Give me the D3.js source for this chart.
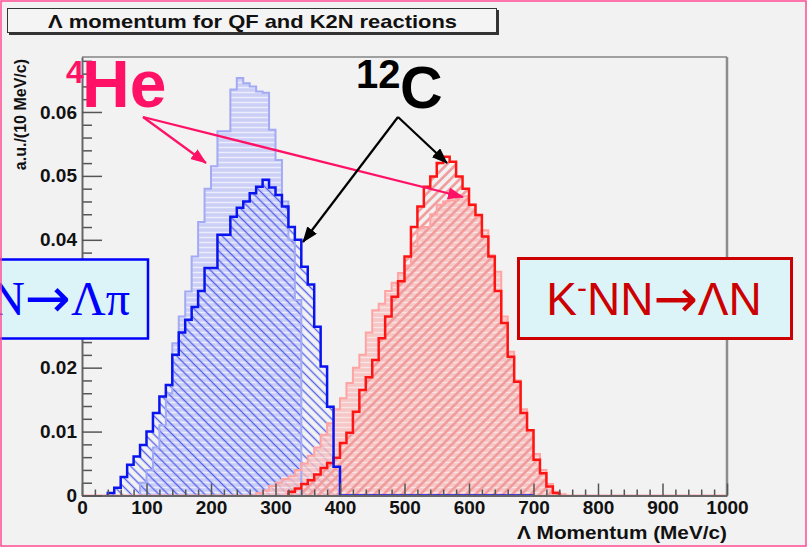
<!DOCTYPE html>
<html>
<head>
<meta charset="utf-8">
<script src="https://cdn.jsdelivr.net/npm/d3@7"></script>
<style>
  html, body { margin: 0; padding: 0; background: #f2f2f2; }
  svg { display: block; font-family: "Liberation Sans", Arial, Helvetica, sans-serif; }
</style>
</head>
<body>
<svg id="chart" width="807" height="547"></svg>
<script>
// ---- data: Λ momentum spectra, 10 MeV/c bins ----
const binWidth = 10;
const xTickValues = [0, 100, 200, 300, 400, 500, 600, 700, 800, 900, 1000];
const yTickValues = [0, 0.01, 0.02, 0.03, 0.04, 0.05, 0.06];

// quasi-free K⁻N→Λπ on 4He (light blue) and 12C (dark blue)
const qfHeliumStart = 90;
const qfHelium = [0.0020, 0.0040, 0.0075, 0.0110, 0.0160, 0.0238, 0.0280, 0.0319, 0.0374, 0.0428,
                  0.0480, 0.0515, 0.0570, 0.0570, 0.0635, 0.0653, 0.0645, 0.0640, 0.0632, 0.0630,
                  0.0572, 0.0525, 0.0460, 0.0400, 0.0306];
const qfCarbonStart = 40;
const qfCarbon = [0.0004, 0.0012, 0.0029, 0.0048, 0.0061, 0.0079, 0.0100, 0.0129, 0.0155, 0.0173,
                  0.0220, 0.0255, 0.0275, 0.0295, 0.0320, 0.0356, 0.0356, 0.0408, 0.0408, 0.0436,
                  0.0450, 0.0460, 0.0473, 0.0483, 0.0494, 0.0482, 0.0470, 0.0452, 0.0420, 0.0400,
                  0.0358, 0.0330, 0.0264, 0.0202, 0.0139, 0.0045];

// two-nucleon absorption K⁻NN→ΛN on 4He (light red) and 12C (red)
const k2nHeliumStart = 270;
const k2nHelium = [0.0004, 0.0008, 0.0015, 0.0020, 0.0026, 0.0030, 0.0040, 0.0050, 0.0062, 0.0075,
                   0.0095, 0.0113, 0.0135, 0.0152, 0.0176, 0.0200, 0.0220, 0.0255, 0.0290, 0.0300,
                   0.0320, 0.0333, 0.0348, 0.0360, 0.0390, 0.0418, 0.0420, 0.0440, 0.0455, 0.0460,
                   0.0462, 0.0470, 0.0468, 0.0455, 0.0436, 0.0415, 0.0376, 0.0350, 0.0280, 0.0225,
                   0.0180, 0.0135, 0.0100, 0.0065, 0.0040, 0.0018, 0.0006, 0.0002];
const k2nCarbonStart = 320;
const k2nCarbon = [0.0006, 0.0011, 0.0018, 0.0024, 0.0033, 0.0043, 0.0051, 0.0059, 0.0082, 0.0098,
                   0.0131, 0.0165, 0.0185, 0.0212, 0.0246, 0.0280, 0.0311, 0.0335, 0.0374, 0.0420,
                   0.0452, 0.0483, 0.0499, 0.0520, 0.0530, 0.0522, 0.0499, 0.0480, 0.0455, 0.0439,
                   0.0405, 0.0374, 0.0320, 0.0270, 0.0217, 0.0178, 0.0129, 0.0102, 0.0056, 0.0035,
                   0.0014, 0.0004];

const titleText = "Λ momentum for QF and K2N reactions";
const xTitle = "Λ Momentum (MeV/c)";
const yTitle = "a.u./(10 MeV/c)";

// ---- layout ----
const svg = d3.select("#chart");
const W = 807, H = 547;
const plot = { left: 82, right: 727, top: 57, bottom: 495.5 };

const x = d3.scaleLinear().domain([0, 1000]).range([plot.left, plot.right]);
const y = d3.scaleLinear().domain([0, 0.0686]).range([plot.bottom, plot.top]);

svg.append("rect").attr("width", W).attr("height", H).attr("fill", "#f2f2f2");

// ---- fill patterns ----
const defs = svg.append("defs");
function stripePattern(id, angle, color, lineW, gap, bg) {
  const p = defs.append("pattern")
    .attr("id", id).attr("patternUnits", "userSpaceOnUse")
    .attr("width", gap).attr("height", gap)
    .attr("patternTransform", `rotate(${angle})`);
  if (bg) p.append("rect").attr("width", gap).attr("height", gap).attr("fill", bg);
  p.append("line").attr("x1", 0).attr("y1", gap / 2).attr("x2", gap).attr("y2", gap / 2)
    .attr("stroke", color).attr("stroke-width", lineW);
}
stripePattern("heBlue", 0, "#eceefc", 1.4, 5, "#c9cdf6");
stripePattern("cBlue", 45, "#5563ec", 1.4, 6.5, null);
stripePattern("heRed", 0, "#fbe0e0", 1.4, 5, "#f6bcbc");
stripePattern("cRed", -45, "#f29a9a", 2.6, 6.5, null);

// ---- histogram helpers ----
function binPoints(start, values, from, to) {
  const pts = [{ m: from, v: 0 }];
  for (let m = from; m < to; m += binWidth) {
    const i = Math.round((m - start) / binWidth);
    pts.push({ m, v: (i >= 0 && i < values.length) ? values[i] : 0 });
  }
  pts.push({ m: to, v: 0 });
  return pts;
}
const area = d3.area().curve(d3.curveStepAfter)
  .x(d => x(d.m)).y0(y(0)).y1(d => y(d.v));
const line = d3.line().curve(d3.curveStepAfter)
  .x(d => x(d.m)).y(d => y(d.v));

const histo = {
  heBlue: binPoints(qfHeliumStart, qfHelium, qfHeliumStart, qfHeliumStart + qfHelium.length * binWidth),
  cBlue: binPoints(qfCarbonStart, qfCarbon, qfCarbonStart, 700),
  heRed: binPoints(k2nHeliumStart, k2nHelium, 0, 1000),
  cRed: binPoints(k2nCarbonStart, k2nCarbon, k2nCarbonStart, k2nCarbonStart + k2nCarbon.length * binWidth)
};

const g = svg.append("g");
// fills
g.append("path").attr("d", area(histo.heBlue)).attr("fill", "url(#heBlue)").attr("opacity", 0.95);
g.append("path").attr("d", area(histo.cBlue)).attr("fill", "url(#cBlue)");
g.append("path").attr("d", area(histo.heRed)).attr("fill", "url(#heRed)").attr("opacity", 0.8);
g.append("path").attr("d", area(histo.cRed)).attr("fill", "url(#cRed)");
// outlines
g.append("path").attr("d", line(histo.heBlue)).attr("fill", "none")
  .attr("stroke", "#a3aaf4").attr("stroke-width", 2);
g.append("path").attr("d", line(histo.heRed)).attr("fill", "none")
  .attr("stroke", "#ffa3a3").attr("stroke-width", 2);
g.append("path").attr("d", line(histo.cRed)).attr("fill", "none")
  .attr("stroke", "#ff1414").attr("stroke-width", 2.5);
g.append("path").attr("d", line(histo.cBlue)).attr("fill", "none")
  .attr("stroke", "#0a14f0").attr("stroke-width", 2.5);

// ---- frame ----
svg.append("line").attr("x1", plot.left).attr("x2", plot.right).attr("y1", plot.top).attr("y2", plot.top)
  .attr("stroke", "#a0a0a0").attr("stroke-width", 2);
svg.append("line").attr("x1", plot.right).attr("x2", plot.right).attr("y1", plot.top).attr("y2", plot.bottom)
  .attr("stroke", "#8c8c8c").attr("stroke-width", 2.5);

// ---- axes (ticks point inward) ----
const xMinor = d3.range(0, 1001, 20).filter(v => v % 100 !== 0);
const yMinor = d3.range(0, 0.0681, 0.002).filter(v => Math.abs(v * 100 - Math.round(v * 100)) > 1e-6);

const xAxisG = svg.append("g").attr("transform", `translate(0,${plot.bottom})`);
xAxisG.append("g").call(d3.axisBottom(x).tickValues(xMinor).tickSize(-6).tickSizeOuter(0).tickFormat(""))
  .call(a => a.select(".domain").remove());
xAxisG.append("g").call(d3.axisBottom(x).tickValues(xTickValues).tickSize(-12).tickSizeOuter(0)
  .tickPadding(5).tickFormat(d3.format("d")));

const yAxisG = svg.append("g").attr("transform", `translate(${plot.left},0)`);
yAxisG.append("g").call(d3.axisLeft(y).tickValues(yMinor).tickSize(-10).tickSizeOuter(0).tickFormat(""))
  .call(a => a.select(".domain").remove());
yAxisG.append("g").call(d3.axisLeft(y).tickValues(yTickValues).tickSize(-20).tickSizeOuter(0)
  .tickPadding(5).tickFormat(d => d === 0 ? "0" : d3.format(".2f")(d)));

svg.selectAll(".tick line").attr("stroke", "#555").attr("stroke-width", 1.5);
svg.selectAll(".domain").attr("stroke", "#666").attr("stroke-width", 2);
svg.selectAll(".tick text").attr("font-family", "Liberation Sans, Arial, sans-serif")
  .attr("font-weight", "bold").attr("font-size", 19).attr("fill", "#111");

// axis titles
svg.append("text").attr("x", plot.right).attr("y", 539).attr("text-anchor", "end")
  .attr("font-weight", "bold").attr("font-size", 18).attr("fill", "#111")
  .attr("textLength", 210).attr("lengthAdjust", "spacingAndGlyphs").text(xTitle);
svg.append("text").attr("transform", `translate(26,${plot.top + 2}) rotate(-90)`).attr("text-anchor", "end")
  .attr("font-weight", "bold").attr("font-size", 16).attr("fill", "#111").text(yTitle);

// ---- title box ----
svg.append("rect").attr("x", 9).attr("y", 10).attr("width", 490).attr("height", 25).attr("fill", "#333");
svg.append("rect").attr("x", 7.5).attr("y", 8.5).attr("width", 489).attr("height", 24)
  .attr("fill", "#f4f4f4").attr("stroke", "#333").attr("stroke-width", 1);
svg.append("text").attr("x", 48).attr("y", 28).attr("font-weight", "bold").attr("font-size", 18.5)
  .attr("fill", "#111").attr("textLength", 409).attr("lengthAdjust", "spacingAndGlyphs").text(titleText);

// ---- reaction labels ----
svg.append("rect").attr("x", -5).attr("y", 259.5).attr("width", 153).attr("height", 79)
  .attr("fill", "#dcf4f8").attr("stroke", "#0000ff").attr("stroke-width", 2.5);
const qfLabel = svg.append("text").attr("x", 130).attr("y", 315).attr("text-anchor", "end")
  .style("font-family", "'Liberation Serif', 'Times New Roman', serif").attr("font-size", 48)
  .attr("fill", "#0000ff");
qfLabel.append("tspan").text("N");
qfLabel.append("tspan").style("font-family", "'DejaVu Sans', sans-serif").attr("font-size", 55)
  .attr("dy", 2).text("→");
qfLabel.append("tspan").attr("dy", -2).text("Λπ");

svg.append("rect").attr("x", 518.5).attr("y", 258.5).attr("width", 273).attr("height", 80)
  .attr("fill", "#dcf4f8").attr("stroke", "#cc0000").attr("stroke-width", 3);
const k2nLabel = svg.append("text").attr("x", 654).attr("y", 315).attr("text-anchor", "middle")
  .attr("font-size", 46).attr("fill", "#cc0000");
k2nLabel.append("tspan").text("K");
k2nLabel.append("tspan").attr("font-size", 30).attr("dy", -17).text("-");
k2nLabel.append("tspan").attr("font-size", 46).attr("dy", 17).text("NN");
k2nLabel.append("tspan").style("font-family", "'DejaVu Sans', sans-serif").attr("font-size", 53)
  .attr("dy", 2).text("→");
k2nLabel.append("tspan").attr("dy", -2).text("ΛN");

// ---- target annotations ----
const pink = "#ff1166";
function arrowHead(id, color) {
  defs.append("marker").attr("id", id).attr("viewBox", "0 0 16 12")
    .attr("refX", 15).attr("refY", 6).attr("markerWidth", 16).attr("markerHeight", 12)
    .attr("markerUnits", "userSpaceOnUse").attr("orient", "auto")
    .append("path").attr("d", "M0,0 L16,6 L0,12 Z").attr("fill", color);
}
arrowHead("tipPink", pink);
arrowHead("tipBlack", "#000");

const he = svg.append("text").attr("font-weight", "bold").attr("fill", pink);
he.append("tspan").attr("x", 66).attr("y", 83).attr("font-size", 32).text("4");
he.append("tspan").attr("x", 82).attr("y", 107).attr("font-size", 66).text("He");

const c = svg.append("text").attr("font-weight", "bold").attr("fill", "#000");
c.append("tspan").attr("x", 356).attr("y", 88).attr("font-size", 40).text("12");
c.append("tspan").attr("x", 400).attr("y", 108).attr("font-size", 59).text("C");

const arrows = [
  { from: [143, 117], to: [206, 163], color: pink, tip: "tipPink" },
  { from: [143, 117], to: [463, 197], color: pink, tip: "tipPink" },
  { from: [398, 117], to: [303, 242], color: "#000", tip: "tipBlack" },
  { from: [398, 117], to: [447, 163], color: "#000", tip: "tipBlack" }
];
svg.selectAll("line.arrow").data(arrows).join("line").attr("class", "arrow")
  .attr("x1", d => d.from[0]).attr("y1", d => d.from[1])
  .attr("x2", d => d.to[0]).attr("y2", d => d.to[1])
  .attr("stroke", d => d.color).attr("stroke-width", 2.2)
  .attr("marker-end", d => `url(#${d.tip})`);

// slide frame
svg.append("rect").attr("x", 1).attr("y", 1).attr("width", W - 2).attr("height", H - 2)
  .attr("fill", "none").attr("stroke", "#ff4d94").attr("stroke-width", 1.5);
</script>
</body>
</html>
